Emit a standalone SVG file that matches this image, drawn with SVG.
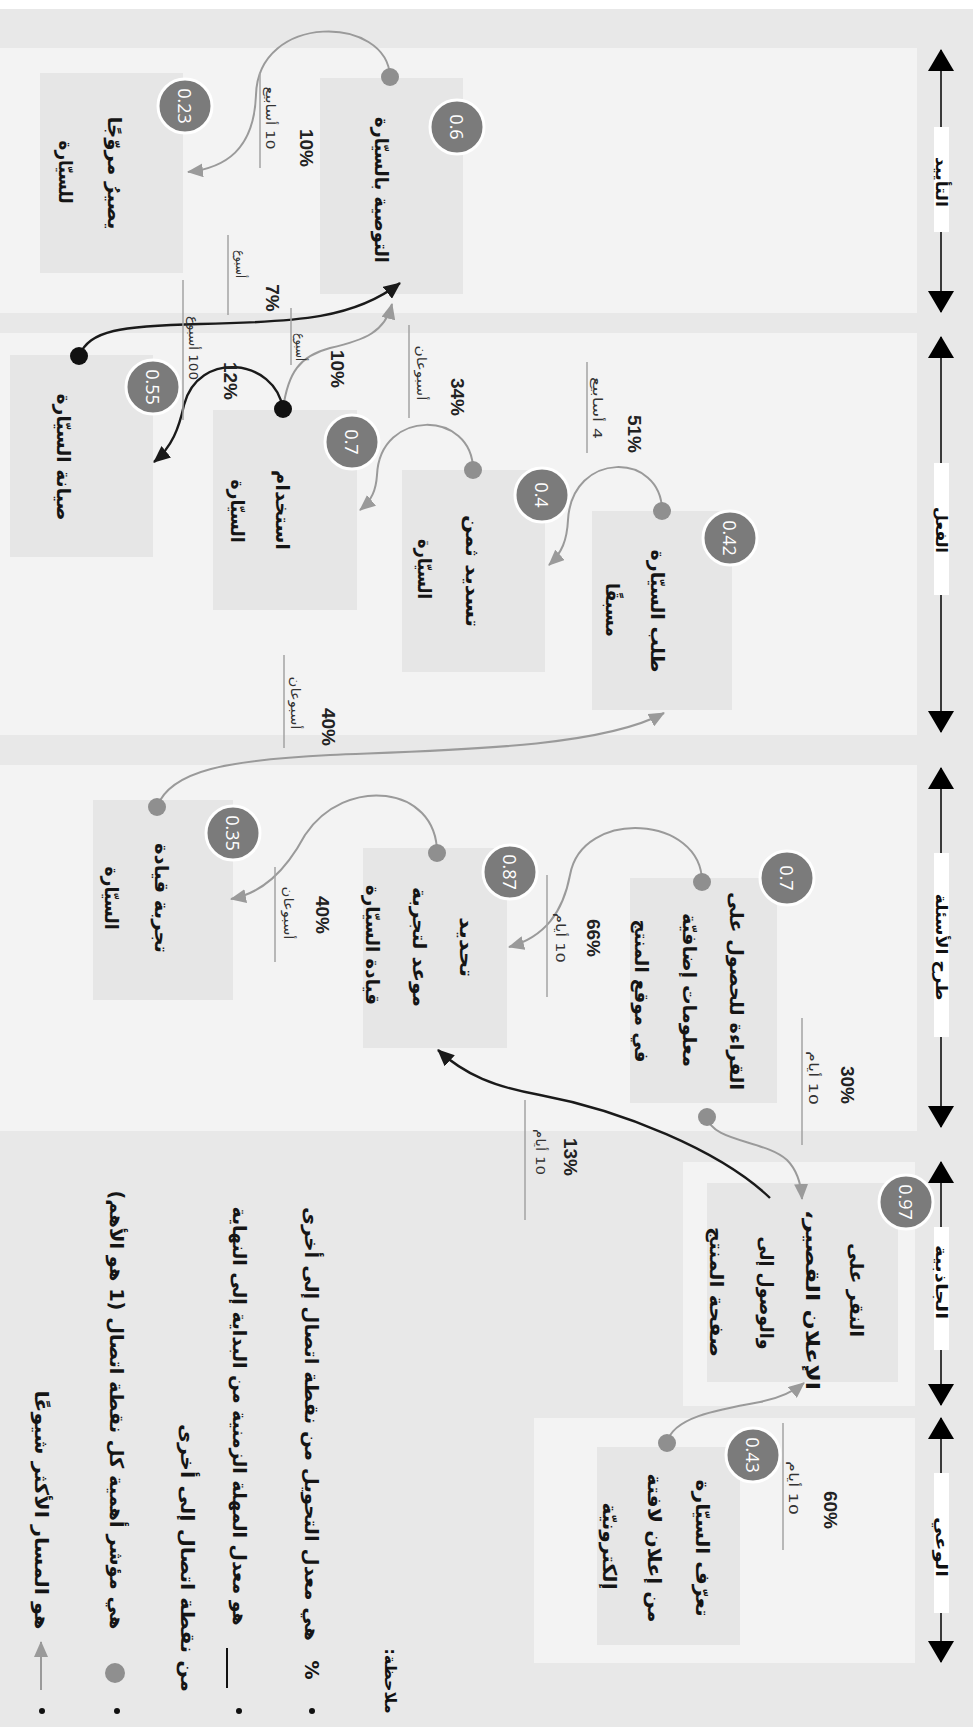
<svg xmlns="http://www.w3.org/2000/svg" width="973" height="1727" viewBox="0 0 973 1727">
<defs>
<marker id="mg" viewBox="0 0 16 14" refX="15" refY="7" markerWidth="16" markerHeight="14" markerUnits="userSpaceOnUse" orient="auto"><path d="M0,0 L16,7 L0,14 Z" fill="#9a9a9a"/></marker>
<marker id="mb" viewBox="0 0 17 15" refX="16" refY="7.5" markerWidth="17" markerHeight="15" markerUnits="userSpaceOnUse" orient="auto"><path d="M0,0 L17,7.5 L0,15 Z" fill="#1a1a1a"/></marker>
<marker id="ms" viewBox="0 0 22 26" refX="21" refY="13" markerWidth="22" markerHeight="26" markerUnits="userSpaceOnUse" orient="auto-start-reverse"><path d="M0,0 L22,13 L0,26 Z" fill="#000"/></marker>
<style>
.panel{fill:#f3f3f3}
.box{fill:#e6e6e6}
.t{font-family:"DejaVu Sans",sans-serif;font-size:19px;font-weight:bold;fill:#151515;text-anchor:middle;dominant-baseline:central;direction:rtl}
.st{font-family:"DejaVu Sans",sans-serif;font-size:16px;font-weight:bold;fill:#111;text-anchor:middle;dominant-baseline:central;direction:rtl}
.nt{font-family:"DejaVu Sans",sans-serif;font-size:19px;font-weight:bold;fill:#151515;text-anchor:middle;dominant-baseline:central;direction:rtl}
.badge{fill:#7b7b7b;stroke:#fff;stroke-width:3}
.n{font-family:"Open Sans","Liberation Sans",sans-serif;font-size:18px;fill:#fff;text-anchor:middle;dominant-baseline:central}
.dot{fill:#8f8f8f}
.bdot{fill:#111}
.cg{fill:none;stroke:#9a9a9a;stroke-width:2;marker-end:url(#mg)}
.cb{fill:none;stroke:#1a1a1a;stroke-width:2.4;marker-end:url(#mb)}
.p{font-family:"Liberation Sans",sans-serif;font-weight:bold;font-size:19px;fill:#222;text-anchor:middle;dominant-baseline:central}
.d{font-family:"DejaVu Sans",sans-serif;font-size:13px;fill:#333;text-anchor:middle;dominant-baseline:central;direction:rtl}
.ul{stroke:#a3a3a3;stroke-width:1.5}
.sarr{stroke:#000;stroke-width:1.5;marker-start:url(#ms);marker-end:url(#ms)}
</style>
</defs>
<rect width="973" height="1727" fill="#e8e8e8"/>
<rect width="973" height="9" fill="#fff"/>
<g id="panels">
<rect class="panel" x="0" y="48" width="917" height="265"/>
<rect class="panel" x="0" y="333" width="917" height="402"/>
<rect class="panel" x="0" y="765" width="917" height="366"/>
<rect class="panel" x="683" y="1162" width="232" height="244"/>
<rect class="panel" x="534" y="1418" width="381" height="245"/>
</g>
<g id="stages">
<line class="sarr" x1="941" y1="50" x2="941" y2="312"/>
<rect x="934" y="127" width="15" height="105" fill="#fff"/>
<text class="st" x="941" y="182" transform="rotate(90 941 182)" textLength="50" lengthAdjust="spacingAndGlyphs">التأييد</text>
<line class="sarr" x1="941" y1="337" x2="941" y2="732"/>
<rect x="934" y="463" width="15" height="132" fill="#fff"/>
<text class="st" x="941" y="530" transform="rotate(90 941 530)" textLength="46" lengthAdjust="spacingAndGlyphs">الفعل</text>
<line class="sarr" x1="941" y1="768" x2="941" y2="1127"/>
<rect x="934" y="853" width="15" height="184" fill="#fff"/>
<text class="st" x="941" y="947" transform="rotate(90 941 947)" textLength="107" lengthAdjust="spacingAndGlyphs">طرح الأسئلة</text>
<line class="sarr" x1="941" y1="1162" x2="941" y2="1405"/>
<rect x="934" y="1227" width="15" height="123" fill="#fff"/>
<text class="st" x="941" y="1282" transform="rotate(90 941 1282)" textLength="74" lengthAdjust="spacingAndGlyphs">الجاذبية</text>
<line class="sarr" x1="941" y1="1418" x2="941" y2="1662"/>
<rect x="934" y="1473" width="15" height="140" fill="#fff"/>
<text class="st" x="941" y="1547" transform="rotate(90 941 1547)" textLength="60" lengthAdjust="spacingAndGlyphs">الوعي</text>
</g>
<g id="n-recommend">
<rect class="box" x="320" y="78" width="143" height="216"/>
<text class="t" x="382" y="190" transform="rotate(90 382 190)" textLength="146" lengthAdjust="spacingAndGlyphs">التوصية بالسيّارة</text>
<circle class="badge" cx="457" cy="127" r="27"/><text class="n" x="457" y="127" transform="rotate(90 457 127)">0.6</text>
</g>
<g id="n-promoter">
<rect class="box" x="40" y="73" width="143" height="200"/>
<text class="t" x="115" y="173" transform="rotate(90 115 173)" textLength="113" lengthAdjust="spacingAndGlyphs">يصيرُ مروّجًا</text>
<text class="t" x="66" y="172" transform="rotate(90 66 172)" textLength="63" lengthAdjust="spacingAndGlyphs">للسيّارة</text>
<circle class="badge" cx="185" cy="106" r="27"/><text class="n" x="185" y="106" transform="rotate(90 185 106)">0.23</text>
</g>
<g id="n-service">
<rect class="box" x="10" y="355" width="143" height="202"/>
<text class="t" x="64" y="457" transform="rotate(90 64 457)" textLength="127" lengthAdjust="spacingAndGlyphs">صيانة السيّارة</text>
<circle class="badge" cx="153" cy="387" r="27"/><text class="n" x="153" y="387" transform="rotate(90 153 387)">0.55</text>
</g>
<g id="n-use">
<rect class="box" x="213" y="410" width="144" height="200"/>
<text class="t" x="283" y="510" transform="rotate(90 283 510)" textLength="80" lengthAdjust="spacingAndGlyphs">استخدام</text>
<text class="t" x="238" y="511" transform="rotate(90 238 511)" textLength="63" lengthAdjust="spacingAndGlyphs">السيّارة</text>
<circle class="badge" cx="352" cy="442" r="27"/><text class="n" x="352" y="442" transform="rotate(90 352 442)">0.7</text>
</g>
<g id="n-pay">
<rect class="box" x="402" y="470" width="143" height="202"/>
<text class="t" x="473" y="571" transform="rotate(90 473 571)" textLength="112" lengthAdjust="spacingAndGlyphs">تسديد ثمن</text>
<text class="t" x="425" y="569" transform="rotate(90 425 569)" textLength="60" lengthAdjust="spacingAndGlyphs">السيّارة</text>
<circle class="badge" cx="542" cy="495" r="27"/><text class="n" x="542" y="495" transform="rotate(90 542 495)">0.4</text>
</g>
<g id="n-preorder">
<rect class="box" x="592" y="511" width="140" height="199"/>
<text class="t" x="658" y="611" transform="rotate(90 658 611)" textLength="123" lengthAdjust="spacingAndGlyphs">طلب السيّارة</text>
<text class="t" x="613" y="610" transform="rotate(90 613 610)" textLength="54" lengthAdjust="spacingAndGlyphs">مسبقًا</text>
<circle class="badge" cx="730" cy="538" r="27"/><text class="n" x="730" y="538" transform="rotate(90 730 538)">0.42</text>
</g>
<g id="n-testdrive">
<rect class="box" x="93" y="800" width="140" height="200"/>
<text class="t" x="162" y="898" transform="rotate(90 162 898)" textLength="110" lengthAdjust="spacingAndGlyphs">تجربة قيادة</text>
<text class="t" x="112" y="898" transform="rotate(90 112 898)" textLength="63" lengthAdjust="spacingAndGlyphs">السيّارة</text>
<circle class="badge" cx="233" cy="833" r="27"/><text class="n" x="233" y="833" transform="rotate(90 233 833)">0.35</text>
</g>
<g id="n-schedule">
<rect class="box" x="363" y="848" width="144" height="200"/>
<text class="t" x="467" y="947" transform="rotate(90 467 947)" textLength="60" lengthAdjust="spacingAndGlyphs">تحديد</text>
<text class="t" x="420" y="947" transform="rotate(90 420 947)" textLength="120" lengthAdjust="spacingAndGlyphs">موعد لتجربة</text>
<text class="t" x="373" y="945" transform="rotate(90 373 945)" textLength="120" lengthAdjust="spacingAndGlyphs">قيادة السيّارة</text>
<circle class="badge" cx="510" cy="872" r="27"/><text class="n" x="510" y="872" transform="rotate(90 510 872)">0.87</text>
</g>
<g id="n-read">
<rect class="box" x="630" y="878" width="147" height="225"/>
<text class="t" x="737" y="991" transform="rotate(90 737 991)" textLength="198" lengthAdjust="spacingAndGlyphs">القراءة للحصول على</text>
<text class="t" x="690" y="990" transform="rotate(90 690 990)" textLength="154" lengthAdjust="spacingAndGlyphs">معلومات إضافيّة</text>
<text class="t" x="642" y="991" transform="rotate(90 642 991)" textLength="143" lengthAdjust="spacingAndGlyphs">في موقع المنتج</text>
<circle class="badge" cx="787" cy="878" r="27"/><text class="n" x="787" y="878" transform="rotate(90 787 878)">0.7</text>
</g>
<g id="n-click">
<rect class="box" x="707" y="1183" width="191" height="199"/>
<text class="t" x="857" y="1290" transform="rotate(90 857 1290)" textLength="94" lengthAdjust="spacingAndGlyphs">النقر على</text>
<text class="t" x="813" y="1300" transform="rotate(90 813 1300)" textLength="180" lengthAdjust="spacingAndGlyphs">الإعلان القصير،</text>
<text class="t" x="767" y="1293" transform="rotate(90 767 1293)" textLength="113" lengthAdjust="spacingAndGlyphs">والوصول إلى</text>
<text class="t" x="717" y="1292" transform="rotate(90 717 1292)" textLength="130" lengthAdjust="spacingAndGlyphs">صفحة المنتج</text>
<circle class="badge" cx="906" cy="1202" r="27"/><text class="n" x="906" y="1202" transform="rotate(90 906 1202)">0.97</text>
</g>
<g id="n-aware">
<rect class="box" x="597" y="1447" width="143" height="198"/>
<text class="t" x="703" y="1548" transform="rotate(90 703 1548)" textLength="137" lengthAdjust="spacingAndGlyphs">تعرّف السيّارة</text>
<text class="t" x="655" y="1548" transform="rotate(90 655 1548)" textLength="149" lengthAdjust="spacingAndGlyphs">من إعلان لافتة</text>
<text class="t" x="610" y="1546" transform="rotate(90 610 1546)" textLength="87" lengthAdjust="spacingAndGlyphs">إلكترونيّة</text>
<circle class="badge" cx="753" cy="1455" r="27"/><text class="n" x="753" y="1455" transform="rotate(90 753 1455)">0.43</text>
</g>
<g id="connectors">
<path class="cg" d="M390,77 C388,15 258,12 256,95 C254,150 225,168 188,172"/>
<path class="cg" d="M473,470 C473,410 380,408 377,475 C376,490 372,500 360,510"/>
<path class="cg" d="M662,511 C662,452 572,450 568,520 C567,540 562,553 549,565"/>
<path class="cg" d="M157,807 C170,770 230,760 330,755 C450,750 600,748 664,713"/>
<path class="cg" d="M437,853 C437,785 345,775 305,835 C285,872 262,893 231,899"/>
<path class="cg" d="M702,882 C702,815 582,808 570,875 C563,912 545,937 509,947"/>
<path class="cg" d="M707,1117 C712,1142 765,1140 787,1160 C797,1170 801,1182 802,1199"/>
<path class="cb" d="M770,1198 C720,1150 620,1110 540,1095 C495,1087 465,1075 438,1050"/>
<path class="cg" d="M667,1443 C672,1418 715,1410 760,1402 C780,1398 793,1392 804,1383"/>
<path class="cb" d="M283,409 C275,358 198,350 184,405 C179,428 172,447 154,462"/>
<path class="cg" d="M283,409 C288,372 300,356 330,348 C365,340 385,332 392,304"/>
<path class="cb" d="M79,356 C90,330 120,326 200,324 C300,322 355,318 400,283"/>
<circle class="dot" cx="390" cy="77" r="9"/>
<circle class="dot" cx="473" cy="470" r="9"/>
<circle class="dot" cx="662" cy="511" r="9"/>
<circle class="dot" cx="157" cy="807" r="9"/>
<circle class="dot" cx="437" cy="853" r="9"/>
<circle class="dot" cx="702" cy="882" r="9"/>
<circle class="dot" cx="707" cy="1117" r="9"/>
<circle class="dot" cx="667" cy="1443" r="9"/>
<circle class="bdot" cx="79" cy="356" r="9"/>
<circle class="bdot" cx="283" cy="409" r="9"/>
</g>
<g id="labels">
<line class="ul" x1="260" y1="73" x2="260" y2="168"/>
<text class="d" x="270" y="118" transform="rotate(90 270 118)" textLength="63" lengthAdjust="spacingAndGlyphs">10 أسابيع</text>
<text class="p" x="306" y="148" transform="rotate(90 306 148)">10%</text>
<line class="ul" x1="228" y1="235" x2="228" y2="315"/>
<text class="d" x="240" y="264" transform="rotate(90 240 264)" textLength="28" lengthAdjust="spacingAndGlyphs">أسبوع</text>
<text class="p" x="272" y="298" transform="rotate(90 272 298)">7%</text>
<line class="ul" x1="291" y1="308" x2="291" y2="365"/>
<text class="d" x="300" y="347" transform="rotate(90 300 347)" textLength="28" lengthAdjust="spacingAndGlyphs">أسبوع</text>
<text class="p" x="337" y="369" transform="rotate(90 337 369)">10%</text>
<line class="ul" x1="183" y1="280" x2="183" y2="420"/>
<text class="d" x="193" y="348" transform="rotate(90 193 348)" textLength="64" lengthAdjust="spacingAndGlyphs">100 أسبوع</text>
<text class="p" x="230" y="381" transform="rotate(90 230 381)">12%</text>
<line class="ul" x1="409" y1="325" x2="409" y2="418"/>
<text class="d" x="421" y="373" transform="rotate(90 421 373)" textLength="55" lengthAdjust="spacingAndGlyphs">أسبوعان</text>
<text class="p" x="457" y="397" transform="rotate(90 457 397)">34%</text>
<line class="ul" x1="587" y1="362" x2="587" y2="453"/>
<text class="d" x="597" y="408" transform="rotate(90 597 408)" textLength="62" lengthAdjust="spacingAndGlyphs">4 أسابيع</text>
<text class="p" x="634" y="434" transform="rotate(90 634 434)">51%</text>
<line class="ul" x1="284" y1="655" x2="284" y2="748"/>
<text class="d" x="295" y="703" transform="rotate(90 295 703)" textLength="53" lengthAdjust="spacingAndGlyphs">أسبوعان</text>
<text class="p" x="328" y="727" transform="rotate(90 328 727)">40%</text>
<line class="ul" x1="275" y1="867" x2="275" y2="962"/>
<text class="d" x="288" y="913" transform="rotate(90 288 913)" textLength="53" lengthAdjust="spacingAndGlyphs">أسبوعان</text>
<text class="p" x="322" y="915" transform="rotate(90 322 915)">40%</text>
<line class="ul" x1="547" y1="875" x2="547" y2="997"/>
<text class="d" x="560" y="938" transform="rotate(90 560 938)" textLength="50" lengthAdjust="spacingAndGlyphs">10 أيام</text>
<text class="p" x="593" y="938" transform="rotate(90 593 938)">66%</text>
<line class="ul" x1="802" y1="1018" x2="802" y2="1145"/>
<text class="d" x="813" y="1078" transform="rotate(90 813 1078)" textLength="54" lengthAdjust="spacingAndGlyphs">10 أيام</text>
<text class="p" x="847" y="1085" transform="rotate(90 847 1085)">30%</text>
<line class="ul" x1="525" y1="1100" x2="525" y2="1220"/>
<text class="d" x="540" y="1152" transform="rotate(90 540 1152)" textLength="46" lengthAdjust="spacingAndGlyphs">10 أيام</text>
<text class="p" x="570" y="1157" transform="rotate(90 570 1157)">13%</text>
<line class="ul" x1="783" y1="1423" x2="783" y2="1550"/>
<text class="d" x="793" y="1488" transform="rotate(90 793 1488)" textLength="54" lengthAdjust="spacingAndGlyphs">10 أيام</text>
<text class="p" x="830" y="1510" transform="rotate(90 830 1510)">60%</text>
</g>
<g id="notes">
<text class="st" x="390" y="1681" transform="rotate(90 390 1681)" textLength="65" lengthAdjust="spacingAndGlyphs">ملاحظة:</text>
<circle cx="312" cy="1711" r="3" fill="#111"/>
<text class="nt" x="312" y="1670" transform="rotate(90 312 1670)">%</text>
<text class="nt" x="312" y="1424" transform="rotate(90 312 1424)" textLength="434" lengthAdjust="spacingAndGlyphs">هي معدل التحويل من نقطة اتصال إلى أخرى</text>
<circle cx="239" cy="1711" r="3" fill="#111"/>
<line x1="227" y1="1648" x2="227" y2="1688" stroke="#111" stroke-width="2"/>
<text class="nt" x="240" y="1416" transform="rotate(90 240 1416)" textLength="419" lengthAdjust="spacingAndGlyphs">هو معدل المهلة الزمنية من البداية إلى النهاية</text>
<text class="nt" x="188" y="1558" transform="rotate(90 188 1558)" textLength="268" lengthAdjust="spacingAndGlyphs">من نقطة اتصال إلى أخرى</text>
<circle cx="117" cy="1711" r="3" fill="#111"/>
<circle cx="115" cy="1673" r="10" fill="#8f8f8f"/>
<text class="nt" x="117" y="1410" transform="rotate(90 117 1410)" textLength="439" lengthAdjust="spacingAndGlyphs">هي مؤشر أهمية كل نقطة اتصال (1 هو الأهم)</text>
<circle cx="42" cy="1711" r="3" fill="#111"/>
<line x1="41" y1="1690" x2="41" y2="1642" stroke="#9a9a9a" stroke-width="2" marker-end="url(#mg)"/>
<text class="nt" x="42" y="1510" transform="rotate(90 42 1510)" textLength="239" lengthAdjust="spacingAndGlyphs">هو المسار الأكثر شيوعًا</text>
</g>
</svg>
